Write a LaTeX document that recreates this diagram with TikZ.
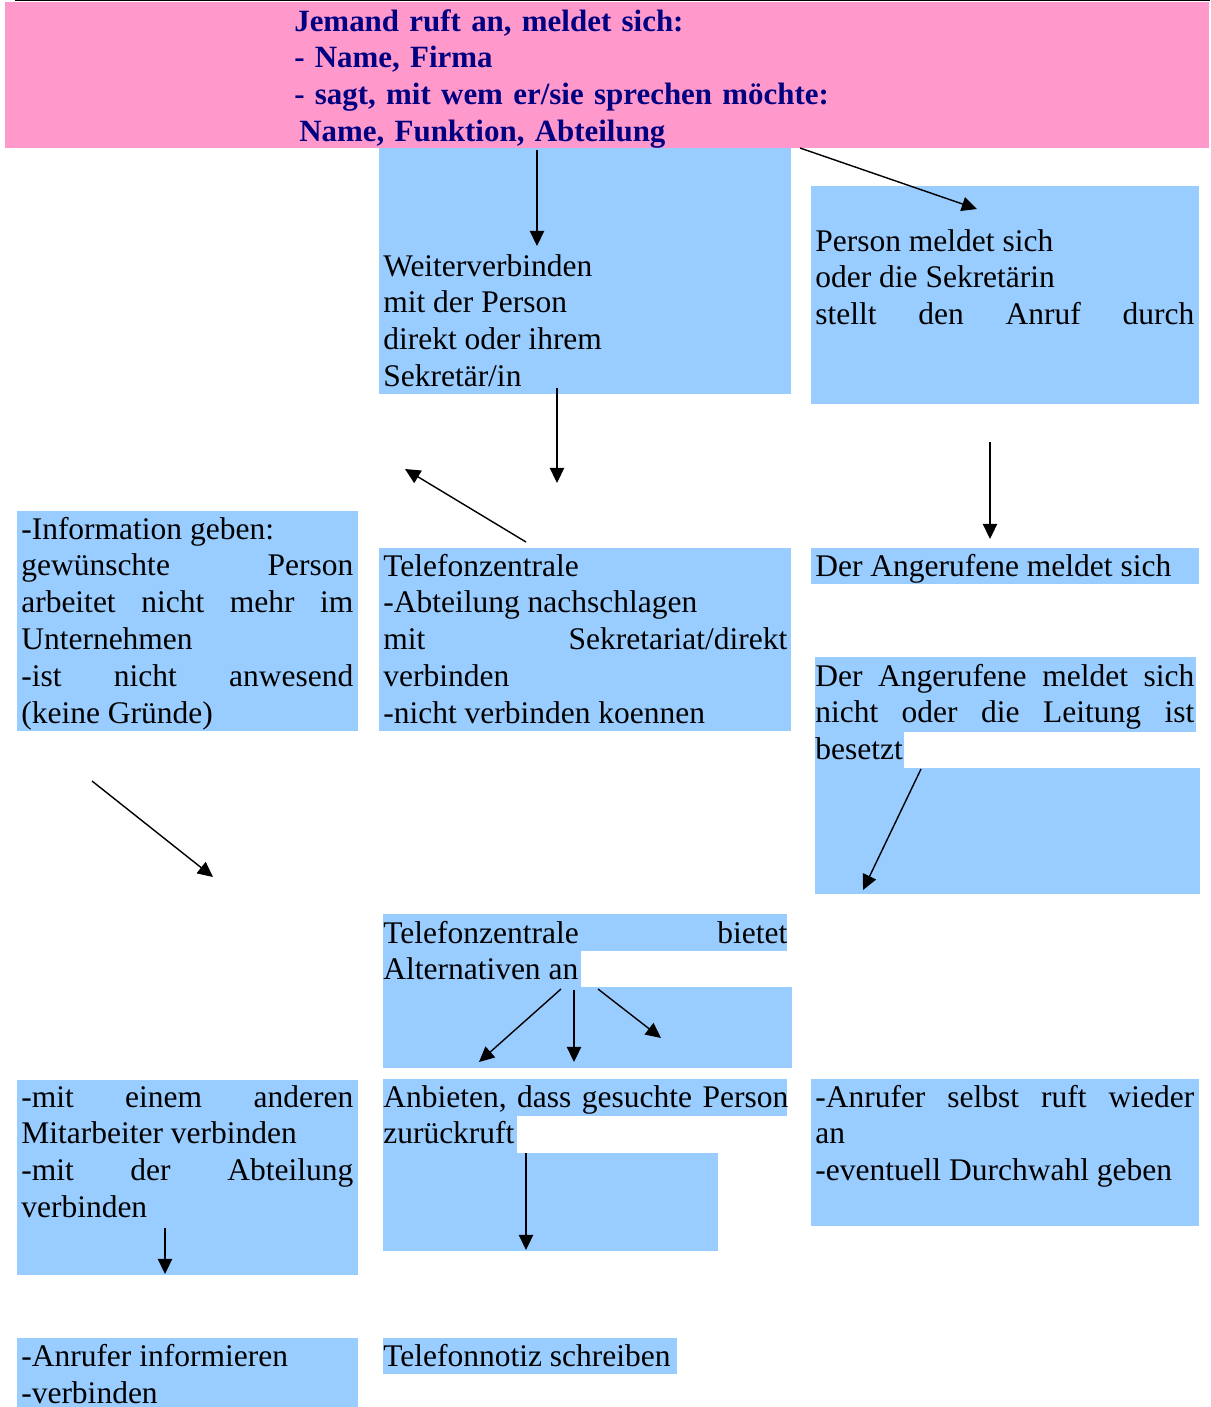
\documentclass[tikz,border=0pt]{standalone}
\usepackage{fontspec}
\setmainfont{Liberation Serif}
\usetikzlibrary{arrows.meta}
\definecolor{pinkbg}{HTML}{FF99CC}
\definecolor{bluebg}{HTML}{99CCFF}
\definecolor{navytext}{HTML}{000080}
\begin{document}
\begin{tikzpicture}[
    x=0.025cm, y=-0.025cm,
    txt/.style={anchor=base west, inner sep=0pt, align=justify, font=\fontsize{22.4}{26.3}\selectfont},
    head/.style={txt, align=left, text width=700*0.025cm, text=navytext, font=\fontsize{22}{26.3}\selectfont\bfseries},
    leftcol/.style={txt, text width=332*0.025cm},
    midcol/.style={txt, text width=404*0.025cm},
    rightcol/.style={txt, text width=379*0.025cm},
    arrow/.style={-{Triangle[length=0.38cm, width=0.36cm]}, line width=1pt}
]
\useasboundingbox (0,0) rectangle (1210,1407);

% Backgrounds
\draw[line width=1pt] (15,0.5) -- (1210,0.5);
\fill[pinkbg] (5,2) rectangle (1209,148);
\fill[bluebg] (379,148) rectangle (791,394);
\fill[bluebg] (811,186) rectangle (1199,404);
\fill[bluebg] (17,511) rectangle (358,731);
\fill[bluebg] (379,548) rectangle (791,731);
\fill[bluebg] (811,548) rectangle (1199,584);
\fill[bluebg] (815,657) rectangle (1196,732);
\fill[bluebg] (815,732) rectangle (904,768);
\fill[bluebg] (815,768) rectangle (1200,894);
\fill[bluebg] (383,914) rectangle (787,951);
\fill[bluebg] (383,951) rectangle (581,987);
\fill[bluebg] (383,987) rectangle (792,1068);
\fill[bluebg] (17,1080) rectangle (358,1275);
\fill[bluebg] (383,1079) rectangle (787,1116);
\fill[bluebg] (383,1116) rectangle (517,1153);
\fill[bluebg] (383,1153) rectangle (718,1251);
\fill[bluebg] (811,1079) rectangle (1199,1226);
\fill[bluebg] (17,1338) rectangle (358,1407);
\fill[bluebg] (383,1338) rectangle (677,1374);

% Texts
\node[head] (anruf) at (294,31) {Jemand ruft an, meldet sich:\\- Name, Firma\\- sagt, mit wem er/sie sprechen möchte:\\\hspace*{9\pgflinewidth}Name, Funktion, Abteilung};
\node[midcol] (weiter) at (383,276) {Weiterverbinden\\mit der Person\\direkt oder ihrem\\Sekretär/in};
\node[rightcol] (person) at (815,251) {Person meldet sich\\oder die Sekretärin\\stellt den Anruf durch\linebreak};
\node[leftcol] (info) at (21,539) {-Information geben:\\gewünschte Person\linebreak arbeitet nicht mehr im\linebreak Unternehmen\\-ist nicht anwesend\linebreak (keine Gründe)};
\node[midcol] (zentrale) at (383,576) {Telefonzentrale\\-Abteilung nachschlagen\\mit Sekretariat/direkt\linebreak verbinden\\-nicht verbinden koennen};
\node[rightcol] (meldet) at (815,576) {Der Angerufene meldet sich};
\node[rightcol] (besetzt) at (815,686) {Der Angerufene meldet sich\linebreak nicht oder die Leitung ist\linebreak besetzt};
\node[midcol] (alternativ) at (383,943) {Telefonzentrale bietet\linebreak Alternativen an};
\node[leftcol] (mitarbeiter) at (21,1107) {-mit einem anderen\linebreak Mitarbeiter verbinden\\-mit der Abteilung\linebreak verbinden};
\node[txt, text width=420*0.025cm, align=left] (rueckruf) at (383,1107) {Anbieten, dass gesuchte Person\\zurückruft};
\node[rightcol] (wieder) at (815,1107) {-Anrufer selbst ruft wieder\linebreak an\\-eventuell Durchwahl geben};
\node[leftcol] (informieren) at (21,1366) {-Anrufer informieren\\-verbinden};
\node[txt, align=left] (notiz) at (383,1366) {Telefonnotiz schreiben};

% Arrow ends
\coordinate (a1s) at (537,150);   \coordinate (a1e) at (537,246);
\coordinate (a2s) at (800,148);   \coordinate (a2e) at (977,209);
\coordinate (a3s) at (557,388);   \coordinate (a3e) at (557,483);
\coordinate (a4s) at (526,542);   \coordinate (a4e) at (405,469);
\coordinate (a5s) at (990,442);   \coordinate (a5e) at (990,539);
\coordinate (a6s) at (921,769);   \coordinate (a6e) at (863,890);
\coordinate (a7s) at (92,781);    \coordinate (a7e) at (213,877);
\coordinate (a8s) at (561,989);   \coordinate (a8e) at (479,1062);
\coordinate (a9s) at (574,990);   \coordinate (a9e) at (574,1062);
\coordinate (a10s) at (598,989);  \coordinate (a10e) at (661,1038);
\coordinate (a11s) at (165,1228); \coordinate (a11e) at (165,1274);
\coordinate (a12s) at (526,1153); \coordinate (a12e) at (526,1250);

% Arrows
\draw[arrow] (a1s) -- (a1e);
\draw[arrow] (a2s) -- (a2e);
\draw[arrow] (a3s) -- (a3e);
\draw[arrow] (a4s) -- (a4e);
\draw[arrow] (a5s) -- (a5e);
\draw[arrow] (a6s) -- (a6e);
\draw[arrow] (a7s) -- (a7e);
\draw[arrow] (a8s) -- (a8e);
\draw[arrow] (a9s) -- (a9e);
\draw[arrow] (a10s) -- (a10e);
\draw[arrow] (a11s) -- (a11e);
\draw[arrow] (a12s) -- (a12e);

\end{tikzpicture}
\end{document}
